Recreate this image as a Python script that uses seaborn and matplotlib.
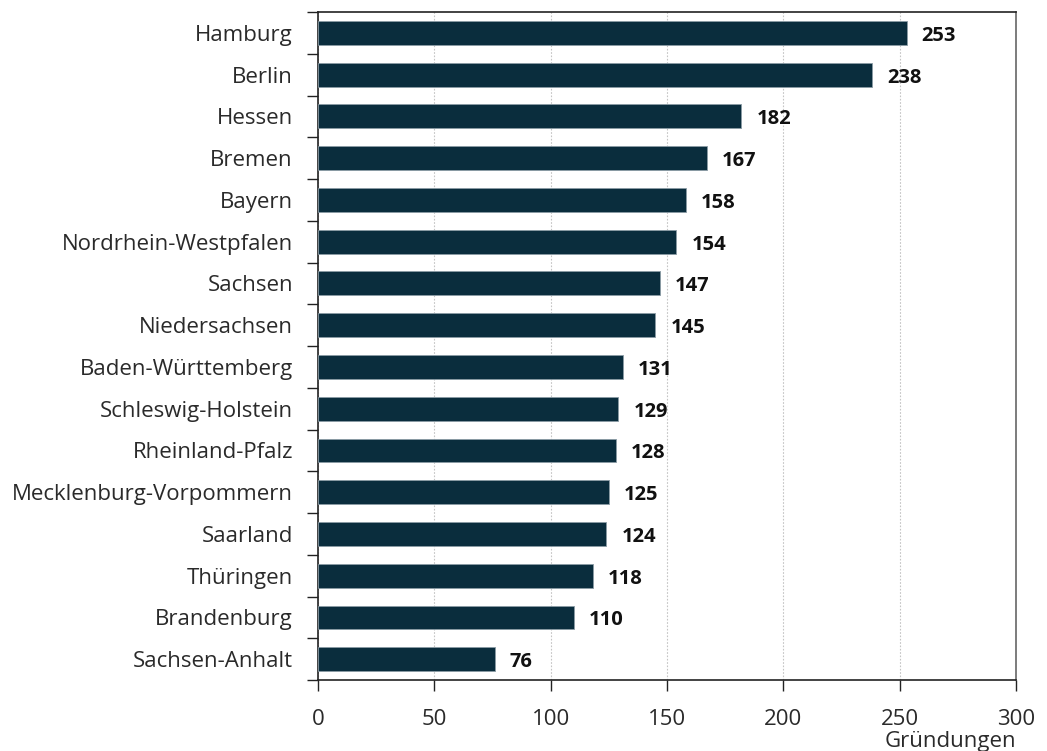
import matplotlib
matplotlib.use("Agg")
import matplotlib.pyplot as plt
import seaborn as sns
import pandas as pd
from matplotlib.ticker import FixedLocator

states = ["Hamburg", "Berlin", "Hessen", "Bremen", "Bayern", "Nordrhein-Westpfalen",
          "Sachsen", "Niedersachsen", "Baden-Württemberg", "Schleswig-Holstein",
          "Rheinland-Pfalz", "Mecklenburg-Vorpommern", "Saarland", "Thüringen",
          "Brandenburg", "Sachsen-Anhalt"]
values = [253, 238, 182, 167, 158, 154, 147, 145, 131, 129, 128, 125, 124, 118, 110, 76]
x_ticks = [0, 50, 100, 150, 200, 250, 300]
x_label = "Gründungen"

sns.set_theme(style="white")
plt.rcParams['font.family'] = ['Open Sans', 'DejaVu Sans']
plt.rcParams['xtick.bottom'] = True
plt.rcParams['ytick.left'] = True

df = pd.DataFrame({"state": states, "value": values})

fig = plt.figure(figsize=(10.47, 7.51), dpi=100)
ax = fig.add_axes([0.3037, 0.0945, 0.6667, 0.8895])

sns.barplot(data=df, y="state", x="value", orient="h", color="#0a2d3d",
            width=0.57, edgecolor="#8a9ba5", linewidth=0.6, saturation=1, ax=ax, zorder=3)

ax.set_xlim(0, 300)
ax.set_ylim(len(states) - 0.5, -0.5)
ax.set_xticks(x_ticks)
ax.set_xticklabels([str(t) for t in x_ticks], fontsize=16, color="#2a2a2a")
ax.tick_params(axis="x", bottom=True, direction="out", length=8, width=1, color="#222222", pad=13)

# y ticks at category boundaries, labels at centers
ax.yaxis.set_major_locator(FixedLocator([i - 0.5 for i in range(len(states) + 1)]))
ax.set_yticklabels([])
ax.yaxis.set_minor_locator(FixedLocator(list(range(len(states)))))
ax.set_yticklabels(states, minor=True, fontsize=16, color="#2a2a2a")
ax.tick_params(axis="y", which="major", left=True, direction="out", length=8, width=1, color="#222222")
ax.tick_params(axis="y", which="minor", left=True, length=0, pad=18)

ax.set_ylabel("")
ax.set_xlabel("")
ax.text(1.0, -0.077, x_label, transform=ax.transAxes, ha="right", va="top",
        fontsize=16, color="#2a2a2a")

ax.grid(axis="x", color="#c4c4c4", linestyle=(0, (1.5, 1.5)), linewidth=0.8, zorder=0)
ax.grid(axis="y", visible=False)

for s in ["left", "bottom", "top"]:
    ax.spines[s].set_color("#222222")
    ax.spines[s].set_linewidth(1.2)
ax.spines["right"].set_color("#666666")
ax.spines["right"].set_linewidth(1.2)

for i, v in enumerate(values):
    ax.text(v + 6.5, i + 0.07, str(v), va="center", ha="left", fontsize=14.5,
            fontweight="bold", color="#111111")

fig.savefig("out.png", dpi=100)
